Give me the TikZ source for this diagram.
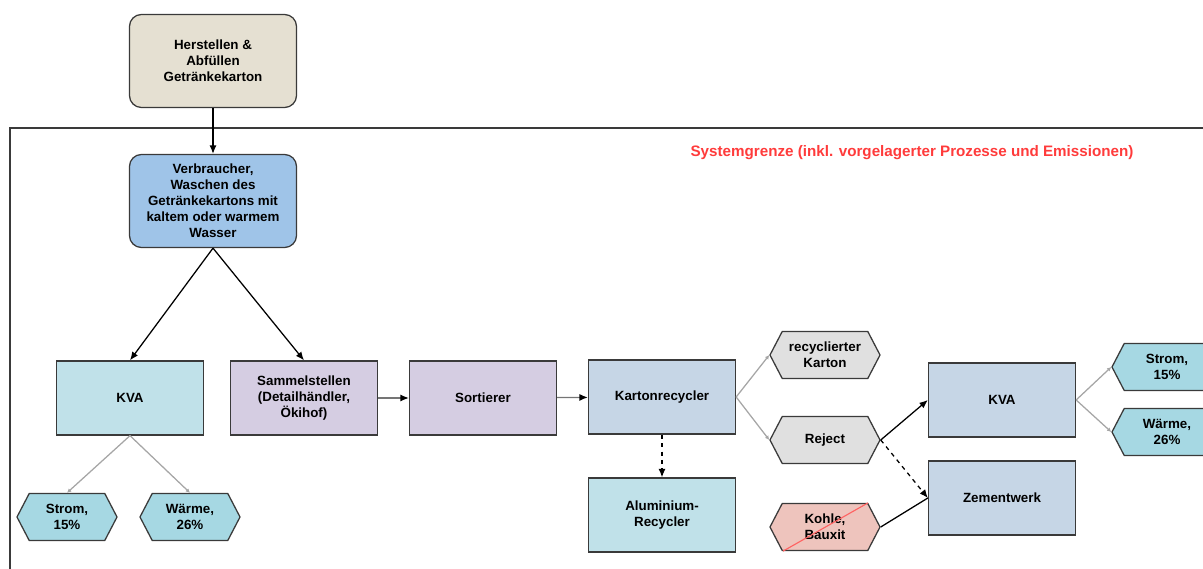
\documentclass[tikz,border=0pt]{standalone}
\usepackage{fontspec}
\setmainfont{Liberation Sans}
\usetikzlibrary{shapes.symbols}
\usetikzlibrary{arrows.meta}
\usetikzlibrary{calc}
\usetikzlibrary{positioning}
\definecolor{edge}{HTML}{3A3A3A}
\definecolor{beige}{HTML}{E5E0D2}
\definecolor{consumer}{HTML}{9FC4E8}
\definecolor{cyanbox}{HTML}{C0E1E9}
\definecolor{lavender}{HTML}{D5CDE2}
\definecolor{steel}{HTML}{C6D6E6}
\definecolor{greyhex}{HTML}{E0E0E0}
\definecolor{cyanhex}{HTML}{A6D8E3}
\definecolor{pinkhex}{HTML}{EEC4BD}
\definecolor{grenze}{HTML}{FF3B3B}

\begin{document}
\begin{tikzpicture}[x=0.025cm, y=-0.025cm,
  font=\bfseries\fontsize{9.5}{11.4}\selectfont,
  proc/.style={draw=edge, line width=0.9pt, align=center, inner sep=2pt},
  rbox/.style={proc, rounded corners=0.3cm, minimum width=4.175cm, minimum height=2.325cm},
  box/.style={proc, minimum width=3.675cm, minimum height=1.85cm},
  hex/.style={proc, signal, signal to=east and west, signal pointer angle=125,
              minimum width=2.75cm, minimum height=1.175cm},
  flow/.style={-{Latex[length=6pt,width=5pt,black]}, line width=0.9pt, black},
  yield/.style={-{Latex[length=3pt,width=3pt]}, line width=0.9pt, gray!70}]

\clip (0,0) rectangle (1203,569);

%---------------------------------------
% Systemgrenze
%---------------------------------------
\draw[line width=1pt, edge] (10,575) -- (10,128) -- (1210,128);
\node[text=grenze, font=\bfseries\fontsize{10.8}{13}\selectfont] (grenze) at (912,153)
  {Systemgrenze (inkl. vorgelagerter Prozesse und Emissionen)};

%---------------------------------------
% Herstellung und Verbrauch
%---------------------------------------
\node[rbox, fill=beige] (herst) at (213,61) {Herstellen \&\\Abfüllen\\Getränkekarton};
\node[rbox, fill=consumer] (verbr) at (213,201) {Verbraucher,\\Waschen des\\Getränkekartons mit\\kaltem oder warmem\\Wasser};

\draw[flow] (herst) -- (verbr);

%---------------------------------------
% KVA (links) und Sammlung
%---------------------------------------
\node[box, fill=cyanbox] (kva) at (130,398) {KVA};
\node[box, fill=lavender] (sammel) at (304,398) {Sammelstellen\\(Detailhändler,\\Ökihof)};
\node[box, fill=lavender] (sort) at (483,398) {Sortierer};

\node[hex, fill=cyanhex, minimum width=2.5cm] (strom) at (67,517) {Strom,\\15\%};
\node[hex, fill=cyanhex, minimum width=2.5cm] (waerme) at (190,517) {Wärme,\\26\%};

\draw[flow] (verbr.south) -- (kva.north);
\draw[flow] (verbr.south) -- (sammel.north);
\draw[yield] (kva.south) -- (strom.north);
\draw[yield] (kva.south) -- (waerme.north);
\draw[flow, draw=edge!70] (sammel) -- (sort);

%---------------------------------------
% Recycling
%---------------------------------------
\node[box, fill=steel] (karton) at (662,397) {Kartonrecycler};
\node[box, fill=cyanbox] (alu) at (662,515) {Aluminium-\\Recycler};

\node[hex, fill=greyhex] (rkarton) at (825,355) {recyclierter\\Karton};
\node[hex, fill=greyhex] (reject) at (825,440) {Reject};
\node[hex, fill=pinkhex] (kohle) at (825,527) {Kohle,\\Bauxit};
\draw[grenze!80, line width=0.8pt] ([xshift=-1.05cm]kohle.south) -- ([xshift=1.075cm]kohle.north);

\draw[flow, draw=edge!70] (sort) -- (karton);
\draw[flow, dashed] (karton) -- (alu);
\draw[yield] (karton.east) -- (rkarton.west);
\draw[yield] (karton.east) -- (reject.west);

%---------------------------------------
% Verwertung Reject
%---------------------------------------
\node[box, fill=steel] (kva2) at (1002,400) {KVA};
\node[box, fill=steel] (zement) at (1002,498) {Zementwerk};

\node[hex, fill=cyanhex] (strom2) at (1167,367) {Strom,\\15\%};
\node[hex, fill=cyanhex] (waerme2) at (1167,432) {Wärme,\\26\%};

\draw[flow] (reject.east) -- (kva2.west);
\draw[flow, dashed] (reject.east) -- (zement.west);
\draw[line width=0.9pt, black] (kohle.east) -- (zement.west);
\draw[yield] (kva2.east) -- (strom2.west);
\draw[yield] (kva2.east) -- (waerme2.west);

\end{tikzpicture}
\end{document}
